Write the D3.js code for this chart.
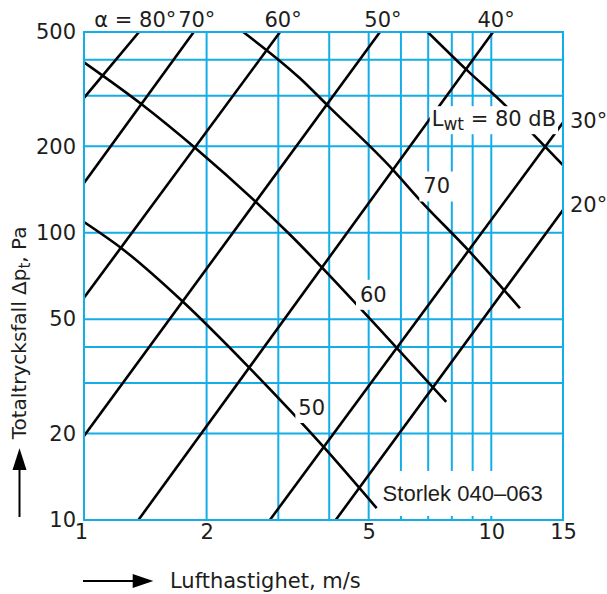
<!DOCTYPE html>
<html>
<head>
<meta charset="utf-8">
<script src="https://cdn.jsdelivr.net/npm/d3@7"></script>
<style>
  html, body { margin: 0; padding: 0; background: #fff; }
  svg { display: block; }
  text { font-family: "DejaVu Sans", sans-serif; fill: #1d1d1b; }
</style>
</head>
<body>
<svg id="chart" width="607" height="594"></svg>
<script>
// ---- axis ticks and grid values ----
const xTicks = [1, 2, 5, 10, 15];
const xGrid = [2, 3, 4, 5, 6, 7, 8, 9, 10];
const yTicks = [10, 20, 50, 100, 200, 500];
const yGrid = [20, 30, 40, 50, 100, 200, 300, 400];

// ---- damper blade angle lines, [velocity m/s, pressure drop Pa] ----
const alpha80 = [[1, 295], [1.365, 500]];
const alpha70 = [[1, 149], [1.86, 500]];
const alpha60 = [[1, 59.4], [3.03, 500]];
const alpha50 = [[1, 19.6], [5.33, 500]];
const alpha40 = [[1.36, 10], [10.1, 500]];
const alpha30 = [[2.86, 10], [15, 242]];
const alpha20 = [[4.15, 10], [15, 120]];
const alphaNames = ["80°", "70°", "60°", "50°", "40°", "30°", "20°"];

// ---- sound power level curves, [velocity m/s, pressure drop Pa] ----
const lwt50 = [[1, 109], [1.24, 88], [1.75, 57.5], [2.53, 34.2], [3.87, 18], [5.23, 11]];
const lwt60 = [[1, 392], [1.39, 279], [1.87, 198], [3.17, 100], [5.33, 46], [7.75, 25.8]];
const lwt70 = [[2.46, 500], [3.39, 345], [3.98, 276], [5.75, 165], [6.68, 130], [8.78, 87], [11.76, 54.6]];
const lwt80 = [[6.98, 500], [8.7, 369], [10.9, 275], [12.3, 230], [15, 172]];

const GRID = "#14ade8";
const INK = "#1d1d1b";
const FONT = '"DejaVu Sans", sans-serif';

const svg = d3.select("#chart");

const x = d3.scaleLog().domain([1, 15]).range([84, 563]);
const y = d3.scaleLog().domain([10, 500]).range([520, 32]);

// ---- grid ----
const grid = svg.append("g");
grid.selectAll("line.v").data(xGrid).join("line")
  .attr("class", "v")
  .attr("x1", d => x(d)).attr("x2", d => x(d))
  .attr("y1", y(10)).attr("y2", y(500))
  .attr("stroke", GRID).attr("stroke-width", 2);
grid.selectAll("line.h").data(yGrid).join("line")
  .attr("class", "h")
  .attr("x1", x(1)).attr("x2", x(15))
  .attr("y1", d => y(d)).attr("y2", d => y(d))
  .attr("stroke", GRID).attr("stroke-width", 2);

// ---- curves ----
const line = d3.line().x(d => x(d[0])).y(d => y(d[1]));
const curve = d3.line().x(d => x(d[0])).y(d => y(d[1])).curve(d3.curveMonotoneX);

svg.append("clipPath").attr("id", "plot")
  .append("rect")
  .attr("x", x(1)).attr("y", y(500))
  .attr("width", x(15) - x(1)).attr("height", y(10) - y(500));

const marks = svg.append("g").attr("clip-path", "url(#plot)");
const alphaLines = [alpha80, alpha70, alpha60, alpha50, alpha40, alpha30, alpha20];
marks.selectAll("path.alpha").data(alphaLines).join("path")
  .attr("class", "alpha")
  .attr("d", line)
  .attr("fill", "none").attr("stroke", "#000").attr("stroke-width", 2.6);

const soundLines = [lwt50, lwt60, lwt70, lwt80];
marks.selectAll("path.lwt").data(soundLines).join("path")
  .attr("class", "lwt")
  .attr("d", curve)
  .attr("fill", "none").attr("stroke", "#000").attr("stroke-width", 2.6);

// ---- frame ----
svg.append("rect")
  .attr("x", x(1)).attr("y", y(500))
  .attr("width", x(15) - x(1)).attr("height", y(10) - y(500))
  .attr("fill", "none").attr("stroke", GRID).attr("stroke-width", 2);

// ---- labels with a white backing box ----
function boxedLabel(parent, v, p, build, pad) {
  const g = parent.append("g");
  const t = g.append("text")
    .attr("x", x(v)).attr("y", y(p))
    .style("font-family", FONT);
  build(t);
  const b = t.node().getBBox();
  g.insert("rect", "text")
    .attr("x", b.x - pad[3]).attr("y", b.y - pad[0])
    .attr("width", b.width + pad[1] + pad[3])
    .attr("height", b.height + pad[0] + pad[2])
    .attr("fill", "#fff");
  return g;
}

const notes = svg.append("g");
boxedLabel(notes, 7.14, 235, t => {
  t.style("font-size", "21px");
  t.append("tspan").text("L");
  t.append("tspan").attr("dy", 4).style("font-size", "17px").text("wt");
  t.append("tspan").attr("dy", -4).text(" = 80 dB");
}, [1, 2, 0, 2]);
boxedLabel(notes, 6.81, 137, t => t.style("font-size", "21px").text("70"), [3, 4, 3, 4]);
boxedLabel(notes, 4.76, 57.5, t => t.style("font-size", "21px").text("60"), [3, 4, 3, 4]);
boxedLabel(notes, 3.36, 23.2, t => t.style("font-size", "21px").text("50"), [3, 2, 3, 3]);
boxedLabel(notes, 5.41, 11.65, t => t
  .style("font-family", '"Liberation Sans", Arial, sans-serif')
  .style("font-size", "22px").text("Storlek 040–063"), [10, 15, 10, 3]);

// ---- angle labels ----
const topAngles = alphaLines.slice(1, 5);
svg.append("text")
  .attr("x", x(alpha80[1][0])).attr("y", 27)
  .attr("text-anchor", "end").style("font-size", "21px").text("α =\u00a0");
svg.append("text")
  .attr("x", x(alpha80[1][0])).attr("y", 27)
  .style("font-size", "21px").text(alphaNames[0]);
svg.selectAll("text.topA").data(topAngles).join("text")
  .attr("class", "topA")
  .attr("x", d => x(d[1][0]) + 3).attr("y", 27)
  .attr("text-anchor", "middle").style("font-size", "21px")
  .text((d, i) => alphaNames[i + 1]);
const sideAngles = [[alpha30, 5], [alpha20, 2]];
svg.selectAll("text.sideA").data(sideAngles).join("text")
  .attr("class", "sideA")
  .attr("x", d => x(d[0][1][0]) + 7).attr("y", d => y(d[0][1][1]) + d[1])
  .style("font-size", "21px")
  .text((d, i) => alphaNames[i + 5]);

// ---- axes ----
const ya = svg.append("g").attr("transform", `translate(${x(1)},0)`)
  .call(d3.axisLeft(y).tickValues(yTicks).tickFormat(d3.format("d")).tickSize(0).tickPadding(8));
ya.select(".domain").remove();
ya.attr("font-family", null).attr("font-size", null);
ya.selectAll("text").style("font-size", "21px").style("font-family", FONT).attr("fill", INK);

const xa = svg.append("g").attr("transform", `translate(0,${y(10)})`)
  .call(d3.axisBottom(x).tickValues(xTicks).tickFormat(d3.format("d")).tickSize(0).tickPadding(4));
xa.select(".domain").remove();
xa.attr("font-family", null).attr("font-size", null);
xa.selectAll("text").style("font-size", "21px").style("font-family", FONT).attr("fill", INK)
  .attr("dx", d => d === 1 ? -3 : 0);

// ---- axis titles with arrows ----
svg.append("line").attr("x1", 83).attr("x2", 134).attr("y1", 581).attr("y2", 581)
  .attr("stroke", "#000").attr("stroke-width", 2);
svg.append("path").attr("d", "M132.7,574L153.3,581L132.7,588Z").attr("fill", "#000");
svg.append("text").attr("x", 170).attr("y", 588).style("font-size", "21px")
  .text("Lufthastighet, m/s");

svg.append("line").attr("x1", 19.5).attr("x2", 19.5).attr("y1", 517).attr("y2", 468)
  .attr("stroke", "#000").attr("stroke-width", 2);
svg.append("path").attr("d", "M12.5,470L19.5,448.3L26.5,470Z").attr("fill", "#000");
const yt = svg.append("text")
  .attr("transform", "translate(25.5,439.3) rotate(-90)")
  .style("font-size", "20px");
yt.append("tspan").text("Totaltrycksfall Δp");
yt.append("tspan").attr("dy", 4).style("font-size", "15px").text("t");
yt.append("tspan").attr("dy", -4).text(", Pa");
</script>
</body>
</html>
